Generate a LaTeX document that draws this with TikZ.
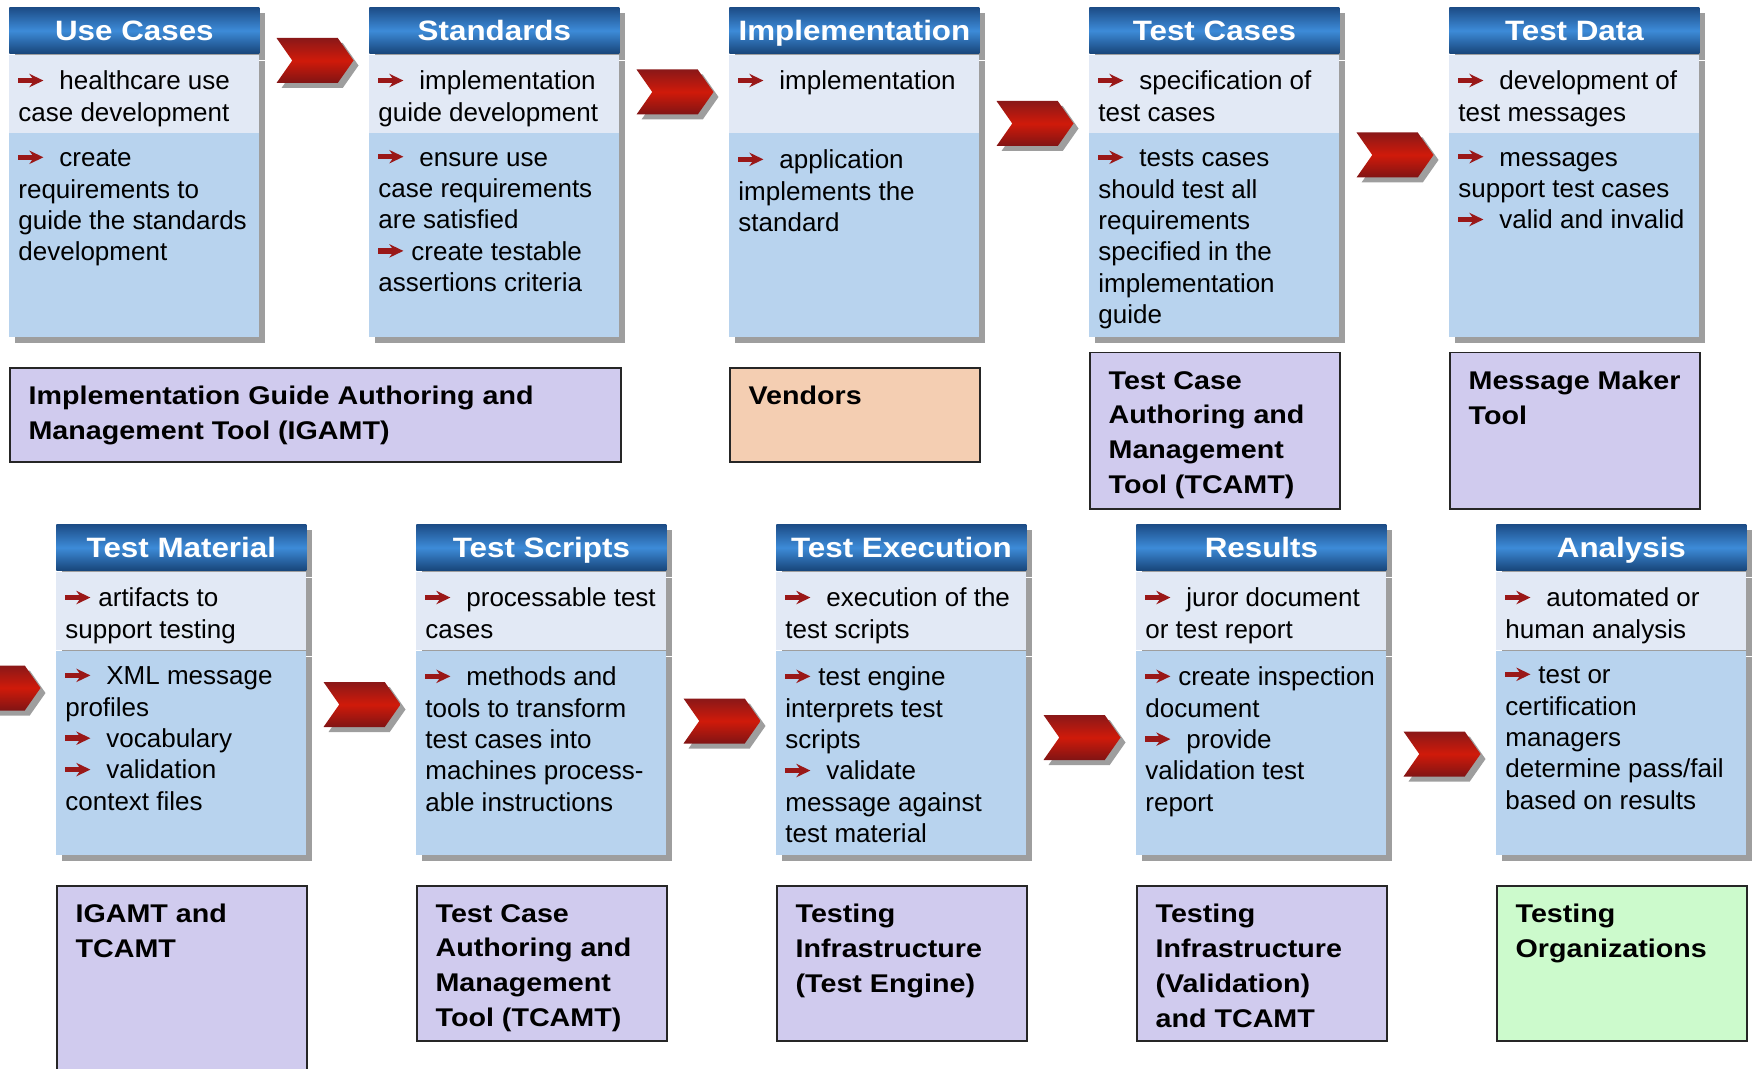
\documentclass[tikz,border=0pt]{standalone}
\usepackage{fontspec}
\setmainfont{Liberation Sans}
\newfontfamily\widebf{Liberation Sans}[FakeStretch=1.12]
\usetikzlibrary{shapes.symbols,shadows}
\definecolor{hdrtop}{HTML}{1C4C86}
\definecolor{hdrmid}{HTML}{3D8BD8}
\definecolor{hdrbot}{HTML}{174478}
\definecolor{litebg}{HTML}{E2E9F5}
\definecolor{bodybg}{HTML}{B8D3EE}
\definecolor{shadowgray}{HTML}{9E9E9E}
\definecolor{toolviolet}{HTML}{D0CBEE}
\definecolor{toolpeach}{HTML}{F4CEB2}
\definecolor{toolgreen}{HTML}{CCFACC}
\definecolor{chevtop}{HTML}{8A1818}
\definecolor{chevmid}{HTML}{D01A0A}
\definecolor{chevbot}{HTML}{801414}
\definecolor{arrred}{HTML}{9A1818}
\newcommand{\arr}[1][8pt]{\tikz[x=1pt,y=1pt,baseline=0pt]{\fill[arrred] (0,3.3) rectangle (8,6.1); \fill[arrred] (5.4,1.3) -- (12.5,4.7) -- (5.4,8.1) -- (7.8,4.7) -- cycle;}\hspace{#1}}
\begin{document}
\begin{tikzpicture}[x=0.5pt, y=-0.5pt,
  shadowed/.style={drop shadow={shadow xshift=3pt, shadow yshift=-3pt, fill=shadowgray, opacity=1}},
  hdrbox/.style={anchor=north west, minimum width=125pt, minimum height=23.25pt, inner sep=0pt, text height=10pt, text depth=0pt, top color=hdrtop, bottom color=hdrbot, middle color=hdrmid, text=white, font=\widebf\fontsize{14}{16}\selectfont\bfseries, shadowed},
  litebox/.style={anchor=north west, minimum width=125pt, minimum height=39pt, inner sep=0pt, fill=litebg, shadowed},
  bodybox/.style={anchor=north west, minimum width=125pt, minimum height=102pt, inner sep=0pt, fill=bodybg, shadowed},
  note/.style={anchor=north west, inner xsep=4.5pt, inner ysep=8.2pt, align=left, font=\fontsize{13}{15.7}\selectfont, execute at begin node=\strut},
  toolbox/.style={anchor=north west, draw=black!85, line width=0.75pt, inner sep=0pt, minimum width=125pt, minimum height=77.5pt, fill=toolviolet},
  tooltext/.style={anchor=north west, inner xsep=9.6pt, inner ysep=9.4pt, align=left, font=\widebf\fontsize{12.8}{17.4}\selectfont\bfseries, execute at begin node=\strut},
  chev/.style={signal, signal from=west, signal to=east, signal pointer angle=110, minimum width=38.5pt, minimum height=22.5pt, inner sep=0pt, top color=chevtop, bottom color=chevbot, middle color=chevmid, drop shadow={shadow xshift=2.5pt, shadow yshift=-2.5pt, fill=shadowgray, opacity=1}}]
\useasboundingbox (0,0) rectangle (1754,1069);
\clip (0,0) rectangle (1754,1069);
\node[hdrbox] (h1) at (9, 7) {Use Cases};
\node[litebox] (l1) at (h1.south west) {};
\node[bodybox] (b1) at (l1.south west) {};
\node[note] (lt1) at (l1.north west) {\arr healthcare use\\case development};
\node[note] (bt1) at (b1.north west) {\arr create\\requirements to\\guide the standards\\development};
\node[hdrbox] (h2) at (369, 7) {Standards};
\node[litebox] (l2) at (h2.south west) {};
\node[bodybox] (b2) at (l2.south west) {};
\node[note] (lt2) at (l2.north west) {\arr implementation\\guide development};
\node[note] (bt2) at (b2.north west) {\arr ensure use\\case requirements\\are satisfied\\\arr[4pt]create testable\\assertions criteria};
\node[hdrbox] (h3) at (729, 7) {Implementation};
\node[litebox] (l3) at (h3.south west) {};
\node[bodybox] (b3) at (l3.south west) {};
\node[note] (lt3) at (l3.north west) {\arr implementation\\};
\node[note] (bt3) at (b3.north west) {\arr application\\implements the\\standard};
\node[hdrbox] (h4) at (1089, 7) {Test Cases};
\node[litebox] (l4) at (h4.south west) {};
\node[bodybox] (b4) at (l4.south west) {};
\node[note] (lt4) at (l4.north west) {\arr specification of\\test cases};
\node[note] (bt4) at (b4.north west) {\arr tests cases\\should test all\\requirements\\specified in the\\implementation\\guide};
\node[hdrbox] (h5) at (1449, 7) {Test Data};
\node[litebox] (l5) at (h5.south west) {};
\node[bodybox] (b5) at (l5.south west) {};
\node[note] (lt5) at (l5.north west) {\arr development of\\test messages};
\node[note] (bt5) at (b5.north west) {\arr messages\\support test cases\\\arr valid and invalid};
\node[hdrbox] (h6) at (56, 524) {Test Material};
\node[litebox] (l6) at (h6.south west) {};
\node[bodybox] (b6) at (l6.south west) {};
\node[note] (lt6) at (l6.north west) {\arr[4pt]artifacts to\\support testing};
\node[note] (bt6) at (b6.north west) {\arr XML message\\profiles\\\arr vocabulary\\\arr validation\\context files};
\node[hdrbox] (h7) at (416, 524) {Test Scripts};
\node[litebox] (l7) at (h7.south west) {};
\node[bodybox] (b7) at (l7.south west) {};
\node[note] (lt7) at (l7.north west) {\arr processable test\\cases};
\node[note] (bt7) at (b7.north west) {\arr methods and\\tools to transform\\test cases into\\machines process-\\able instructions};
\node[hdrbox] (h8) at (776, 524) {Test Execution};
\node[litebox] (l8) at (h8.south west) {};
\node[bodybox] (b8) at (l8.south west) {};
\node[note] (lt8) at (l8.north west) {\arr execution of the\\test scripts};
\node[note] (bt8) at (b8.north west) {\arr[4pt]test engine\\interprets test\\scripts\\\arr validate\\message against\\test material};
\node[hdrbox] (h9) at (1136, 524) {Results};
\node[litebox] (l9) at (h9.south west) {};
\node[bodybox] (b9) at (l9.south west) {};
\node[note] (lt9) at (l9.north west) {\arr juror document\\or test report};
\node[note] (bt9) at (b9.north west) {\arr[4pt]create inspection\\document\\\arr provide\\validation test\\report};
\node[hdrbox] (h10) at (1496, 524) {Analysis};
\node[litebox] (l10) at (h10.south west) {};
\node[bodybox] (b10) at (l10.south west) {};
\node[note] (lt10) at (l10.north west) {\arr automated or\\human analysis};
\node[note] (bt10) at (b10.north west) {\arr[4pt]test or\\certification\\managers\\determine pass/fail\\based on results};
\node[toolbox, minimum width=305.5pt, minimum height=47pt] (k1) at (9, 367) {};
\node[tooltext] (kt1) at (k1.north west) {Implementation Guide Authoring and\\Management Tool (IGAMT)};
\node[toolbox, minimum height=47pt, fill=toolpeach] (k2) at (729, 367) {};
\node[tooltext] (kt2) at (k2.north west) {Vendors\\};
\node[toolbox, minimum height=78pt] (k3) at (1089, 352) {};
\node[tooltext] (kt3) at (k3.north west) {Test Case\\Authoring and\\Management\\Tool (TCAMT)};
\node[toolbox, minimum height=78pt] (k4) at (1449, 352) {};
\node[tooltext] (kt4) at (k4.north west) {Message Maker\\Tool};
\node[toolbox, minimum height=100pt] (k5) at (56, 885) {};
\node[tooltext] (kt5) at (k5.north west) {IGAMT and\\TCAMT};
\node[toolbox] (k6) at (416, 885) {};
\node[tooltext] (kt6) at (k6.north west) {Test Case\\Authoring and\\Management\\Tool (TCAMT)};
\node[toolbox] (k7) at (776, 885) {};
\node[tooltext] (kt7) at (k7.north west) {Testing\\Infrastructure\\(Test Engine)};
\node[toolbox] (k8) at (1136, 885) {};
\node[tooltext] (kt8) at (k8.north west) {Testing\\Infrastructure\\(Validation)\\and TCAMT};
\node[toolbox, fill=toolgreen] (k9) at (1496, 885) {};
\node[tooltext] (kt9) at (k9.north west) {Testing\\Organizations};
\node[chev] (c1) at (315, 60.5) {};
\node[chev] (c2) at (675, 92) {};
\node[chev] (c3) at (1035, 123.5) {};
\node[chev] (c4) at (1395, 155) {};
\node[chev] (c5) at (2, 688) {};
\node[chev] (c6) at (362, 704.5) {};
\node[chev] (c7) at (722, 721) {};
\node[chev] (c8) at (1082, 737.5) {};
\node[chev] (c9) at (1442, 754) {};
\end{tikzpicture}
\end{document}
